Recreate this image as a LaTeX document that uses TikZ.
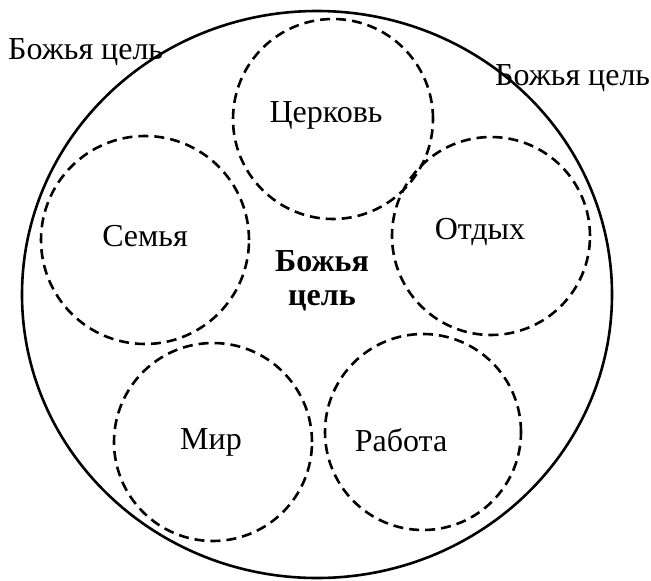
\documentclass[tikz,border=0pt]{standalone}
\usepackage{fontspec}
\setmainfont{Liberation Serif}
\usepackage{tikz}
\usetikzlibrary{positioning,shapes.geometric}

\begin{document}
\begin{tikzpicture}[
  x=1pt, y=-1pt,
  outer/.style={draw, ellipse, line width=2.6pt, inner sep=0pt,
                minimum width=590pt, minimum height=567pt},
  area/.style={draw, circle, line width=2.6pt, inner sep=0pt,
               dash pattern=on 10pt off 6pt},
  lbl/.style={font=\fontsize{32}{34}\selectfont, inner sep=0pt},
  core/.style={font=\fontsize{32}{34}\selectfont\bfseries, align=center, inner sep=0pt}
]
  \useasboundingbox (0,0) rectangle (651,581);

  % --- outer boundary ------------------------------------------------
  \node[outer] (life) at (317,294.5) {};

  % --- life areas ------------------------------------------------------
  \node[area, minimum size=200pt] (church) at (333,119) {};
  \node[area, minimum size=208pt] (family) at (145,240) {};
  \node[area, minimum size=198pt] (rest)   at (491,236) {};
  \node[area, minimum size=198pt] (world)  at (213,442) {};
  \node[area, minimum size=196pt] (work)   at (423,432) {};

  % --- labels ----------------------------------------------------------
  \node[lbl] (churchtxt) at (326,115) {Церковь};
  \node[lbl] (familytxt) at (145,236) {Семья};
  \node[lbl] (resttxt)   at (480,232) {Отдых};
  \node[lbl] (worldtxt)  at (211,442) {Мир};
  \node[lbl] (worktxt)   at (401,440) {Работа};

  \node[core] (purpose) at (322,281) {Божья\\цель};

  % --- outside texts ---------------------------------------------------
  \node[lbl, anchor=west] (purposeleft)  at (8,52)   {Божья цель};
  \node[lbl, anchor=west] (purposeright) at (495,78) {Божья цель};
\end{tikzpicture}
\end{document}
